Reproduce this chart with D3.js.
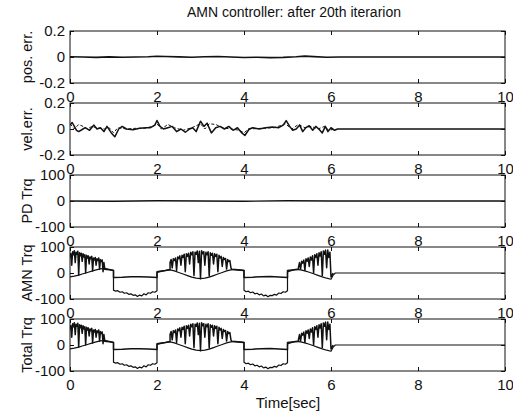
<!DOCTYPE html>
<html>
<head>
<meta charset="utf-8">
<script src="https://cdn.jsdelivr.net/npm/d3@7"></script>
<style>
  body { margin: 0; background: #fff; }
  svg { display: block; font-family: "Liberation Sans", Arial, sans-serif; }
</style>
</head>
<body>
<div id="chart"></div>
<script>
// values
const timeTicks = [0, 2, 4, 6, 8, 10];
const errTicks = [-0.2, 0, 0.2];
const trqTicks = [-100, 0, 100];

const posErr = [[0,0.002],[0.3,0],[0.6,-0.003],[0.9,0.001],[1.2,-0.002],[1.5,0],[1.8,0.002],[2.0,0.006],
  [2.2,0.004],[2.5,0.001],[2.8,-0.002],[3.1,0.002],[3.4,0.004],[3.7,0],[4.0,-0.004],[4.3,-0.002],[4.6,-0.005],
  [4.9,-0.003],[5.2,0.002],[5.4,0.007],[5.6,0.003],[5.9,-0.002],[6.2,0],[10,0]];

const velErr = [[0,0.03],[0.05,0.05],[0.1,0.02],[0.15,-0.01],[0.2,-0.02],[0.3,0],[0.35,0.01],[0.45,-0.01],
  [0.55,0.03],[0.62,0],[0.7,0.01],[0.78,-0.02],[0.85,0.02],[0.95,-0.03],[1.03,-0.06],[1.12,0],[1.2,0.02],
  [1.3,0],[1.45,-0.005],[1.6,0.005],[1.75,0.01],[1.85,0.01],[1.95,0.03],[2.0,0.065],[2.07,0.02],[2.15,0],
  [2.25,0.01],[2.35,0.02],[2.45,-0.02],[2.55,0],[2.65,-0.025],[2.75,0],[2.82,0.01],[2.9,-0.02],[3.0,0.06],
  [3.08,0.02],[3.15,0.045],[3.25,-0.03],[3.35,0.01],[3.45,0.02],[3.55,0],[3.65,0.02],[3.75,-0.01],[3.85,0.01],
  [3.95,-0.03],[4.02,-0.05],[4.12,0],[4.2,0.01],[4.35,0],[4.5,0.01],[4.65,0.015],[4.8,0.01],[4.9,0.03],
  [4.97,0.065],[5.05,0.02],[5.12,-0.01],[5.2,0],[5.28,0.03],[5.35,-0.02],[5.42,0.01],[5.5,0.025],[5.58,-0.01],
  [5.65,0.02],[5.72,0],[5.8,-0.03],[5.87,0.02],[5.93,-0.02],[6.0,0.01],[6.08,-0.01],[6.15,0],[10,0]];

const velErrRef = [[0,0.04],[0.1,0],[0.2,0.035],[0.3,0.02],[0.4,0],[0.5,0.02],[0.6,0.01],[0.8,0],[0.9,0.01],
  [1.0,-0.03],[1.1,0.01],[1.3,0],[1.5,0.005],[1.7,0.005],[1.9,0.02],[2.0,0.04],[2.1,0],[2.25,0.035],[2.4,0.01],
  [2.6,-0.01],[2.8,0.01],[3.0,0.04],[3.1,0],[3.2,0.04],[3.35,0.035],[3.5,0.01],[3.7,0],[3.9,-0.01],[4.0,-0.03],
  [4.1,0],[4.4,0.005],[4.7,0.01],[4.95,0.04],[5.1,0],[5.25,0.035],[5.4,0.01],[5.55,0.02],[5.7,0],[5.85,0.02],
  [5.95,-0.01],[6.1,0]];

const pdTrq = [[0,0],[1,-1],[2,1],[3,0],[4,-1],[5,1],[6,0],[10,0]];

// noisy upper trace of the adaptive torque
const amnHi = [[0,60],[0.02,75],[0.04,30],[0.06,82],[0.08,70],[0.1,86],[0.12,40],[0.14,80],[0.16,72],[0.18,84],
  [0.2,-8],[0.22,78],[0.24,66],[0.26,76],[0.28,45],[0.3,74],[0.32,62],[0.34,70],[0.36,0],[0.38,68],[0.4,58],
  [0.42,66],[0.44,35],[0.46,62],[0.48,55],[0.5,64],[0.52,8],[0.54,58],[0.56,50],[0.58,60],[0.6,30],[0.62,55],
  [0.64,48],[0.66,58],[0.68,15],[0.7,52],[0.72,44],[0.74,50],[0.76,5],[0.78,40],[0.8,14],[0.9,12],[1.0,10],
  [1.0,-17],[1.2,-16],[1.4,-14],[1.6,-14],[1.8,-15],[2.0,-17],[2.0,5],[2.1,8],[2.2,10],[2.3,14],
  [2.3,40],[2.325,52],[2.35,20],[2.375,55],[2.4,48],[2.425,58],[2.45,10],[2.475,62],[2.5,55],[2.525,66],
  [2.55,30],[2.575,68],[2.6,60],[2.625,72],[2.65,5],[2.675,74],[2.7,64],[2.725,76],[2.75,35],[2.775,80],
  [2.8,70],[2.825,82],[2.85,-10],[2.875,80],[2.9,72],[2.925,85],[2.95,40],[2.975,84],[3.0,-22],[3.025,86],
  [3.05,74],[3.075,82],[3.1,30],[3.125,80],[3.15,70],[3.175,82],[3.2,-12],[3.225,78],[3.25,68],[3.275,76],
  [3.3,35],[3.325,74],[3.35,64],[3.375,72],[3.4,5],[3.425,68],[3.45,58],[3.475,64],[3.5,25],[3.525,60],
  [3.55,52],[3.575,56],[3.6,15],[3.625,52],[3.65,44],[3.675,48],[3.7,20],[3.72,14],[3.85,12],[4.0,10],
  [4.0,-17],[4.2,-16],[4.4,-14],[4.6,-13],[4.8,-15],[5.0,-17],[5.0,10],[5.1,12],[5.25,14],
  [5.25,20],[5.275,40],[5.3,15],[5.325,45],[5.35,38],[5.375,50],[5.4,10],[5.425,55],[5.45,45],[5.475,58],
  [5.5,25],[5.525,62],[5.55,50],[5.575,66],[5.6,0],[5.625,70],[5.65,60],[5.675,74],[5.7,30],[5.725,78],
  [5.75,65],[5.775,82],[5.8,-10],[5.825,85],[5.85,72],[5.875,88],[5.9,20],[5.925,88],[5.95,60],[5.975,80],
  [6.0,-15],[6.05,0]];

// smooth lower trace of the adaptive torque
const amnLo = [[0,-15],[0.1,-12],[0.2,-8],[0.3,-3],[0.4,2],[0.5,7],[0.6,12],[0.7,16],[0.8,18],[0.9,14],[1.0,10],
  [1.0,-66],[1.05,-70],[1.1,-68],[1.15,-74],[1.2,-72],[1.25,-78],[1.3,-76],[1.35,-82],[1.4,-80],[1.45,-86],
  [1.5,-84],[1.55,-90],[1.6,-85],[1.65,-88],[1.7,-80],[1.75,-84],[1.8,-76],[1.85,-78],[1.9,-72],[1.95,-74],
  [2.0,-68],[2.0,2],[2.1,6],[2.2,10],[2.3,12],[2.4,8],[2.5,2],[2.6,-4],[2.7,-10],[2.8,-16],[2.9,-20],[3.0,-22],
  [3.1,-20],[3.2,-16],[3.3,-10],[3.4,-4],[3.5,2],[3.6,8],[3.7,12],[3.8,14],[3.9,12],[4.0,10],
  [4.0,-66],[4.05,-72],[4.1,-70],[4.15,-76],[4.2,-73],[4.25,-80],[4.3,-78],[4.35,-84],[4.4,-81],[4.45,-88],
  [4.5,-85],[4.55,-91],[4.6,-86],[4.65,-87],[4.7,-82],[4.75,-85],[4.8,-77],[4.85,-79],[4.9,-72],[4.95,-74],
  [5.0,-68],[5.0,4],[5.1,10],[5.2,14],[5.3,12],[5.4,8],[5.5,3],[5.6,-3],[5.7,-9],[5.8,-15],[5.9,-20],[6.0,-24],
  [6.05,-8],[6.1,0],[10,0]];

// the total torque panel looks the same as the AMN panel (PD torque stays near zero)
const totalHi = amnHi;
const totalLo = amnLo;

const panels = [
  { label: "pos. err.", domain: [-0.2, 0.2], ticks: errTicks, lines: [{ d: posErr, w: 1.6 }] },
  { label: "vel.err.", domain: [-0.2, 0.2], ticks: errTicks, lines: [{ d: velErrRef, w: 1, dash: "3,2" }, { d: velErr, w: 1.5 }] },
  { label: "PD Trq", domain: [-100, 100], ticks: trqTicks, lines: [{ d: pdTrq, w: 1.3 }] },
  { label: "AMN Trq", domain: [-100, 100], ticks: trqTicks, lines: [{ d: amnLo, w: 1.2 }, { d: amnHi, w: 1.5 }] },
  { label: "Total Trq", domain: [-100, 100], ticks: trqTicks, lines: [{ d: totalLo, w: 1.2 }, { d: totalHi, w: 1.5 }] }
];

var width = 513, height = 414;
var left = 70, right = 505, top0 = 31, step = 72, ph = 52;

var svg = d3.select("#chart").append("svg")
  .attr("width", width)
  .attr("height", height);

var x = d3.scaleLinear().domain([0, 10]).range([left, right]);
var fmt = function (d) { return String(d); };

panels.forEach(function (p, i) {
  var top = top0 + i * step, bottom = top + ph;
  var y = d3.scaleLinear().domain(p.domain).range([bottom, top]);

  svg.append("clipPath").attr("id", "clip" + i)
    .append("rect").attr("x", left).attr("y", top).attr("width", right - left).attr("height", ph);

  var line = d3.line().x(function (d) { return x(d[0]); }).y(function (d) { return y(d[1]); });

  var g = svg.append("g").attr("clip-path", "url(#clip" + i + ")");
  p.lines.forEach(function (s) {
    g.append("path")
      .attr("d", line(s.d))
      .attr("fill", "none")
      .attr("stroke", "#111")
      .attr("stroke-width", s.w)
      .attr("stroke-dasharray", s.dash || null)
      .attr("stroke-linejoin", "round");
  });

  var xb = svg.append("g").attr("transform", "translate(0," + bottom + ")")
    .call(d3.axisBottom(x).tickValues(timeTicks).tickSizeInner(-4).tickSizeOuter(0).tickPadding(8).tickFormat(fmt));
  svg.append("g").attr("transform", "translate(0," + top + ")")
    .call(d3.axisTop(x).tickValues(timeTicks).tickSizeInner(-4).tickSizeOuter(0).tickFormat(""));
  var yl = svg.append("g").attr("transform", "translate(" + left + ",0)")
    .call(d3.axisLeft(y).tickValues(p.ticks).tickSizeInner(-4).tickSizeOuter(0).tickPadding(5).tickFormat(fmt));
  svg.append("g").attr("transform", "translate(" + right + ",0)")
    .call(d3.axisRight(y).tickValues(p.ticks).tickSizeInner(-4).tickSizeOuter(0).tickFormat(""));

  svg.selectAll(".domain").remove();
  svg.selectAll(".tick line").attr("stroke", "#111");
  [xb, yl].forEach(function (a) {
    a.selectAll("text").attr("fill", "#111").style("font-size", "15px");
  });

  svg.append("rect")
    .attr("x", left).attr("y", top).attr("width", right - left).attr("height", ph)
    .attr("fill", "none").attr("stroke", "#111").attr("stroke-width", 1);

  svg.append("text")
    .attr("transform", "translate(32," + (top + ph / 2) + ") rotate(-90)")
    .attr("text-anchor", "middle")
    .style("font-size", "14.5px")
    .attr("fill", "#111")
    .text(p.label);
});

svg.append("text")
  .attr("x", 294).attr("y", 17)
  .attr("text-anchor", "middle")
  .style("font-size", "14px")
  .attr("fill", "#111")
  .text("AMN controller: after 20th iterarion");

svg.append("text")
  .attr("x", 288).attr("y", 408)
  .attr("text-anchor", "middle")
  .style("font-size", "15px")
  .attr("fill", "#111")
  .text("Time[sec]");
</script>
</body>
</html>
